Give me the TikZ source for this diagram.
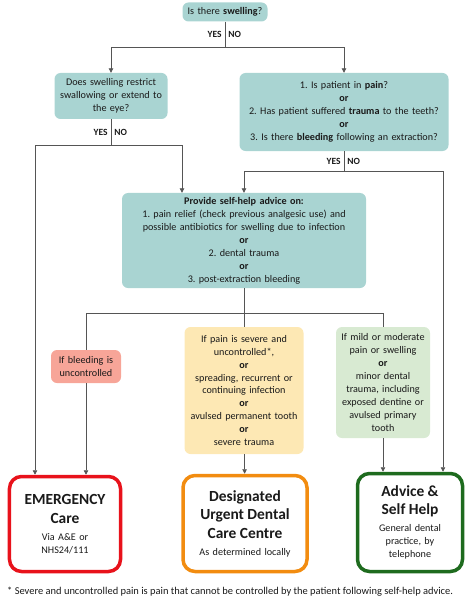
\documentclass[tikz,border=0pt]{standalone}
\usepackage{fontspec}
\setmainfont{Carlito}
\usepackage{tikz}
\usetikzlibrary{calc,positioning}
\usetikzlibrary{arrows.meta}
\tikzset{>={Triangle[width=4.5pt,length=4.5pt]}}
\definecolor{qteal}{HTML}{A9D4D2}
\definecolor{pinkfill}{HTML}{F7A598}
\definecolor{yelfill}{HTML}{FDE8B4}
\definecolor{grnfill}{HTML}{D8EAD2}
\definecolor{emred}{HTML}{E8121B}
\definecolor{udorange}{HTML}{F28C10}
\definecolor{shgreen}{HTML}{1E6B1E}
\definecolor{lgray}{HTML}{555555}
\definecolor{ink}{HTML}{1A1A1A}
\frenchspacing

\begin{document}
\begin{tikzpicture}[x=1bp,y=-1bp]
    \tikzstyle{qnode} = [fill=qteal, rounded corners=6bp, align=center, inner sep=0pt, text=ink, font=\fontsize{10.2}{13}\selectfont]
    \tikzstyle{cnode} = [rounded corners=6bp, align=center, inner sep=0pt, text=ink, font=\fontsize{10.2}{13}\selectfont]
    \tikzstyle{onode} = [fill=white, line width=3.5bp, rounded corners=12bp, align=center, inner sep=0pt, text=ink, font=\fontsize{10.2}{13}\selectfont]
    \tikzstyle{yn} = [font=\bfseries\fontsize{9.5}{11}\selectfont, text=ink, inner sep=3bp]
    \tikzstyle{link} = [draw=lgray, line width=0.8pt]
    \newcommand{\ttl}[1]{{\bfseries\fontsize{15.5}{18.5}\selectfont #1\par}\vspace{4bp}}
    \useasboundingbox (0,0) rectangle (471,600);

    \node[qnode, text width=85bp, minimum height=19bp] (q1) at (225,12) {Is there \textbf{swelling}?};
    \node[qnode, text width=113bp, minimum height=46bp] (q2) at (111,96) {Does swelling restrict\\ swallowing or extend to\\ the eye?};
    \node[qnode, text width=209bp, minimum height=78bp] (q3) at (344,112) {1. Is patient in \textbf{pain}?\\ \textbf{or}\\ 2. Has patient suffered \textbf{trauma} to the teeth?\\ \textbf{or}\\ 3. Is there \textbf{bleeding} following an extraction?};
    \node[qnode, text width=244bp, minimum height=95bp] (adv) at (244,240.5) {\textbf{Provide self-help advice on:}\\ 1. pain relief (check previous analgesic use) and\\ possible antibiotics for swelling due to infection\\ \textbf{or}\\ 2. dental trauma\\ \textbf{or}\\ 3. post-extraction bleeding};

    \node[cnode, fill=pinkfill, text width=70bp, minimum height=33bp] (bleed) at (86,366.5) {If bleeding is\\ uncontrolled};
    \node[cnode, fill=yelfill, text width=119bp, minimum height=127bp] (severe) at (244,390.5) {If pain is severe and\\ uncontrolled*,\\ \textbf{or}\\ spreading, recurrent or\\ continuing infection\\ \textbf{or}\\ avulsed permanent tooth\\ \textbf{or}\\ severe trauma};
    \node[cnode, fill=grnfill, text width=94bp, minimum height=111bp] (mild) at (383,382.5) {If mild or moderate\\ pain or swelling\\ \textbf{or}\\ minor dental\\ trauma, including\\ exposed dentine or\\ avulsed primary\\ tooth};

    \node[onode, draw=emred, text width=111bp, minimum height=95bp] (emerg) at (65,524) {\ttl{EMERGENCY\\ Care}Via A\&E or\\ NHS24/111};
    \node[onode, draw=udorange, text width=124bp, minimum height=96bp] (udcc) at (245,523.5) {\ttl{Designated\\ Urgent Dental\\ Care Centre}As determined locally};
    \node[onode, draw=shgreen, text width=105bp, minimum height=98bp] (selfh) at (410,522.5) {\ttl{Advice \&\\ Self Help}General dental\\ practice, by\\ telephone};

    \node[anchor=west, inner sep=0pt, text=ink, font=\fontsize{10.5}{12}\selectfont] (note) at (7,592) {* Severe and uncontrolled pain is pain that cannot be controlled by the patient following self-help advice.};

    \coordinate (j1) at (225,47);
    \coordinate (j2) at (111,145);
    \coordinate (j3) at (344,171);
    \coordinate (j4) at (244,313);

    % swelling question
    \draw[link] (q1) -- node[yn, left] {YES} node[yn, right] {NO} (j1);
    \draw[link, ->] (j1) -| (q2);
    \draw[link, ->] (j1) -| (q3);

    % restrict swallowing
    \draw[link] (q2) -- node[yn, left] {YES} node[yn, right] {NO} (j2);
    \draw[link, ->] (j2) -| ([xshift=-30bp]emerg.north);
    \draw[link, ->] (j2) -| ([xshift=-62bp]adv.north);

    % pain, trauma, bleeding
    \draw[link] (q3) -- node[yn, left] {YES} node[yn, right] {NO} (j3);
    \draw[link, ->] (j3) -| (adv);
    \draw[link, ->] (j3) -| ([xshift=33bp]selfh.north);

    % after self-help advice
    \draw[link] (adv) -- (j4);
    \draw[link] (j4) -| (bleed);
    \draw[link] (j4) -- (severe);
    \draw[link] (j4) -| (mild);

    \draw[link, ->] (bleed) -- (bleed |- emerg.north);
    \draw[link, ->] (severe) -- (udcc);
    \draw[link, ->] (mild) -- (mild |- selfh.north);

  \end{tikzpicture}
\end{document}
